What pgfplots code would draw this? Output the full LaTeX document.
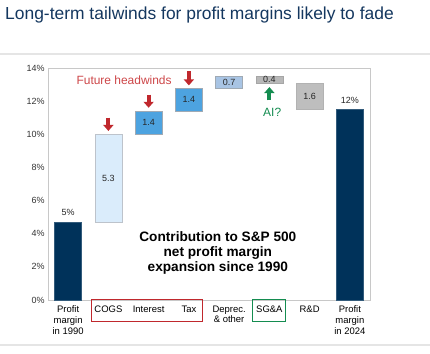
\documentclass[border=0pt]{standalone}
\usepackage{fontspec}
\setmainfont{Liberation Sans}
\usepackage{pgfplots}
\pgfplotsset{compat=1.18}
\usetikzlibrary{arrows.meta}
\definecolor{navy}{RGB}{0,50,90}
\definecolor{titleblue}{RGB}{20,55,95}
\definecolor{lightblue}{RGB}{218,236,251}
\definecolor{midblue}{RGB}{77,163,224}
\definecolor{steel}{RGB}{168,196,228}
\definecolor{greybar}{RGB}{184,184,184}
\definecolor{greybar2}{RGB}{190,190,190}
\definecolor{framegray}{RGB}{200,200,200}
\definecolor{edgegray}{RGB}{160,170,180}
\definecolor{hred}{RGB}{192,40,45}
\definecolor{hredtext}{RGB}{205,70,72}
\definecolor{hgreen}{RGB}{20,140,80}
\begin{document}
\begin{tikzpicture}[x=1bp,y=1bp]
\useasboundingbox (0,0) rectangle (430,354);
\node[anchor=base west, font=\fontsize{17.5}{20}\selectfont, text=titleblue, inner sep=0] at (5,335) {Long-term tailwinds for profit margins likely to fade};
\draw[black!10, line width=1.5bp] (0,300) -- (430,300);
\draw[black!10, line width=1.5bp] (0,9) -- (430,9);
\begin{axis}[
  at={(48bp,54bp)}, anchor=south west,
  scale only axis, width=322bp, height=232bp,
  xmin=-0.5, xmax=7.5, ymin=0, ymax=14,
  ytick={0,2,...,14},
  yticklabel={\pgfmathprintnumber{\tick}\%},
  xtick={0,...,7},
  xticklabels={{Profit\\margin\\in 1990},COGS,Interest,Tax,{Deprec.\\\& other},SG\&A,R\&D,{Profit\\margin\\in 2024}},
  major tick length=0,
  axis line style={draw=framegray},
  /pgf/number format/assume math mode=true,
  yticklabel style={font=\fontsize{9}{11}\selectfont, text=black!80},
  xticklabel style={align=center, font=\fontsize{9.5}{11}\selectfont, yshift=-2bp},
  clip=false, no markers,
]
% bars
\addplot[fill=navy, draw=navy!80] coordinates {(-0.335,0) (0.335,0) (0.335,4.7) (-0.335,4.7)} -- cycle;
\addplot[fill=lightblue, draw=edgegray!70] coordinates {(0.665,4.7) (1.335,4.7) (1.335,10.0) (0.665,10.0)} -- cycle;
\addplot[fill=midblue, draw=edgegray] coordinates {(1.665,10.0) (2.335,10.0) (2.335,11.4) (1.665,11.4)} -- cycle;
\addplot[fill=midblue, draw=edgegray] coordinates {(2.665,11.4) (3.335,11.4) (3.335,12.8) (2.665,12.8)} -- cycle;
\addplot[fill=steel, draw=edgegray] coordinates {(3.665,12.8) (4.335,12.8) (4.335,13.5) (3.665,13.5)} -- cycle;
\addplot[fill=greybar, draw=black!35] coordinates {(4.665,13.5) (5.335,13.5) (5.335,13.1) (4.665,13.1)} -- cycle;
\addplot[fill=greybar2, draw=black!30] coordinates {(5.665,13.1) (6.335,13.1) (6.335,11.5) (5.665,11.5)} -- cycle;
\addplot[fill=navy, draw=navy!80] coordinates {(6.665,0) (7.335,0) (7.335,11.5) (6.665,11.5)} -- cycle;
% value labels
\begin{scope}[font=\fontsize{9}{11}\selectfont, text=black!85]
\node[anchor=base] at (axis cs:0,5.1) {5\%};
\node at (axis cs:1,7.35) {5.3};
\node at (axis cs:2,10.7) {1.4};
\node at (axis cs:3,12.1) {1.4};
\node at (axis cs:4,13.15) {0.7};
\node at (axis cs:5,13.3) {0.4};
\node at (axis cs:6,12.3) {1.6};
\node[anchor=base] at (axis cs:7,11.85) {12\%};
\end{scope}
% headwinds
\node[text=hredtext, font=\fontsize{12}{14}\selectfont] at (axis cs:1.39,13.28) {Future headwinds};
\draw[hred, line width=4bp, -{Triangle[width=10bp,length=6bp]}] (axis cs:1,11.0) -- (axis cs:1,10.2);
\draw[hred, line width=4bp, -{Triangle[width=10bp,length=6bp]}] (axis cs:2,12.4) -- (axis cs:2,11.6);
\draw[hred, line width=4bp, -{Triangle[width=10bp,length=6bp]}] (axis cs:3,13.8) -- (axis cs:3,12.95);
\draw[hgreen, line width=4bp, -{Triangle[width=10bp,length=6bp]}] (axis cs:5,12.05) -- (axis cs:5,12.85);
\node[text=hgreen, font=\fontsize{12}{14}\selectfont] at (axis cs:5.07,11.35) {AI?};
% caption
\node[align=center, font=\bfseries\fontsize{13.7}{15}\selectfont] at (axis cs:3.72,2.84) {Contribution to S\&P 500\\net profit margin\\expansion since 1990};
% boxes
\draw[hred, line width=1bp] (axis cs:0.57,0.05) rectangle (axis cs:3.33,-1.27);
\draw[hgreen, line width=1bp] (axis cs:4.57,0.05) rectangle (axis cs:5.41,-1.27);
\end{axis}
\end{tikzpicture}
\end{document}
